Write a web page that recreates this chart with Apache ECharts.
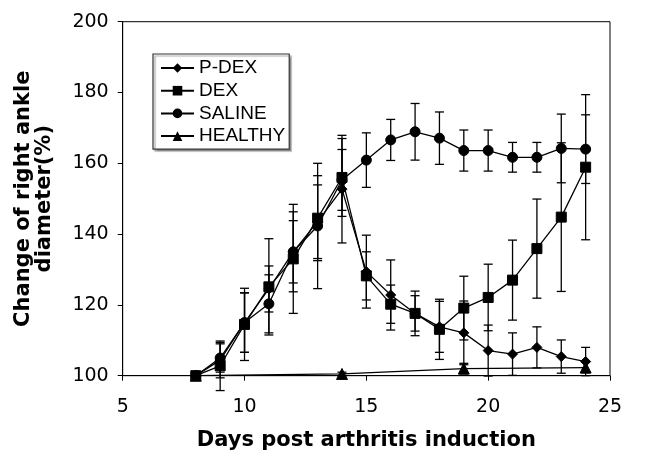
<!DOCTYPE html>
<html>
<head>
<meta charset="utf-8">
<script src="https://cdn.jsdelivr.net/npm/echarts@6/dist/echarts.min.js"></script>
<style>html,body{margin:0;padding:0;background:#fff}#c{width:650px;height:451px}</style>
</head>
<body>
<div id="c"></div>
<script>
const days = [8,9,10,11,12,13,14,15,16,17,18,19,20,21,22,23,24];
const pdex = [100,104.4,115,124.5,135,143.5,152.7,129.4,122.8,117.6,113.8,112.1,107.1,106.1,108,105.4,104];
const pdexErr = [0,5,8.4,6.5,11.3,10.4,15.2,10.3,9.9,5,7.2,9,7.2,6,5.8,4.7,4];
const dex = [100,102.8,114.5,125.1,133,144.5,156,128.2,120.2,117.6,113.1,119.1,122.1,127,135.9,144.8,158.9];
const dexErr = [0,7,10.2,13.6,15.4,12,11,6.8,5.4,6.3,8.5,9,9.4,11.3,14,21,20.5];
const saline = [100,105,115,120.3,135,142.3,155.3,160.9,166.6,168.9,167.1,163.6,163.6,161.7,161.7,164.2,164];
const salineErr = [0,4,8.4,8.2,8.8,17.7,8.6,7.7,5.8,8,7.4,5.8,5.8,4.2,4.2,9.7,9.7];
const healthyDays = [8,14,19,24];
const healthy = [100,100.5,102,102.3];
const healthyErr = [0,0.5,1.5,1.5];
const xTicks = [5,10,15,20,25];
const yTicks = [100,120,140,160,180,200];

const pts = (xs, ys) => xs.map((d, i) => [d, ys[i]]);
const errs = (xs, ys, es) => xs.map((d, i) => [d, ys[i] - es[i], ys[i] + es[i]]);

function renderErr(params, api) {
  const x = api.value(0), lo = api.value(1), hi = api.value(2);
  if (hi - lo <= 0) return null;
  const p1 = api.coord([x, hi]), p2 = api.coord([x, lo]);
  const w = 4.5;
  const st = {stroke: '#000', lineWidth: 1.3};
  return {type: 'group', children: [
    {type: 'line', shape: {x1: p1[0], y1: p1[1], x2: p2[0], y2: p2[1]}, style: st},
    {type: 'line', shape: {x1: p1[0] - w, y1: p1[1], x2: p1[0] + w, y2: p1[1]}, style: st},
    {type: 'line', shape: {x1: p2[0] - w, y1: p2[1], x2: p2[0] + w, y2: p2[1]}, style: st}
  ]};
}

function lineSeries(name, data, symbol, size) {
  return {
    name, type: 'line', data, symbol, symbolSize: size, showAllSymbol: true,
    lineStyle: {color: '#000', width: 1.3},
    itemStyle: {color: '#000', borderColor: '#000'},
    emphasis: {disabled: true}, z: 3, animation: false
  };
}
function errSeries(data) {
  return {type: 'custom', renderItem: renderErr, data, z: 2, animation: false, silent: true,
    encode: {x: 0, y: [1, 2]}};
}

const chart = echarts.init(document.getElementById('c'));
chart.setOption({
  animation: false,
  backgroundColor: '#fff',
  grid: {left: 122.7, right: 40, top: 21.7, bottom: 75.3, show: true, borderColor: '#000', borderWidth: 1,
    containLabel: false, outerBoundsMode: 'none'},
  legend: {
    orient: 'vertical', left: 153, top: 54,
    padding: [4, 4, 3, 7],
    itemWidth: 33, itemHeight: 12, itemGap: 2.7,
    borderColor: '#333', borderWidth: 1.2,
    shadowColor: 'rgba(0,0,0,0.35)', shadowOffsetX: 2, shadowOffsetY: 2, shadowBlur: 1,
    backgroundColor: '#fff',
    textStyle: {fontFamily: 'Liberation Sans', fontSize: 19, color: '#000', lineHeight: 20},
    data: ['P-DEX', 'DEX', 'SALINE', 'HEALTHY']
  },
  xAxis: {
    type: 'value', min: xTicks[0], max: xTicks[xTicks.length - 1], interval: 5,
    axisLine: {lineStyle: {color: '#000', width: 1}},
    axisTick: {lineStyle: {color: '#000'}, length: 5},
    splitLine: {show: false},
    axisLabel: {fontFamily: 'DejaVu Sans', fontSize: 19, color: '#000', margin: 22},
    name: 'Days post arthritis induction', nameLocation: 'middle', nameGap: 54,
    nameTextStyle: {fontFamily: 'DejaVu Sans', fontWeight: 'bold', fontSize: 21, color: '#000'}
  },
  yAxis: {
    type: 'value', min: yTicks[0], max: yTicks[yTicks.length - 1], interval: 20,
    axisLine: {show: true, lineStyle: {color: '#000', width: 1}},
    axisTick: {show: true, lineStyle: {color: '#000'}, length: 5},
    splitLine: {show: false},
    axisLabel: {fontFamily: 'DejaVu Sans', fontSize: 19, color: '#000', margin: 14},
    name: 'Change of right ankle\ndiameter(%)', nameLocation: 'middle', nameGap: 68,
    nameTextStyle: {fontFamily: 'DejaVu Sans', fontWeight: 'bold', fontSize: 21, color: '#000', lineHeight: 21, align: 'center'}
  },
  series: [
    errSeries(errs(days, saline, salineErr)),
    errSeries(errs(days, dex, dexErr)),
    errSeries(errs(days, pdex, pdexErr)),
    errSeries(errs(healthyDays, healthy, healthyErr)),
    lineSeries('HEALTHY', pts(healthyDays, healthy), 'triangle', 11),
    lineSeries('SALINE', pts(days, saline), 'circle', 10),
    lineSeries('DEX', pts(days, dex), 'rect', 10),
    lineSeries('P-DEX', pts(days, pdex), 'diamond', 10)
  ]
});
</script>
</body>
</html>
